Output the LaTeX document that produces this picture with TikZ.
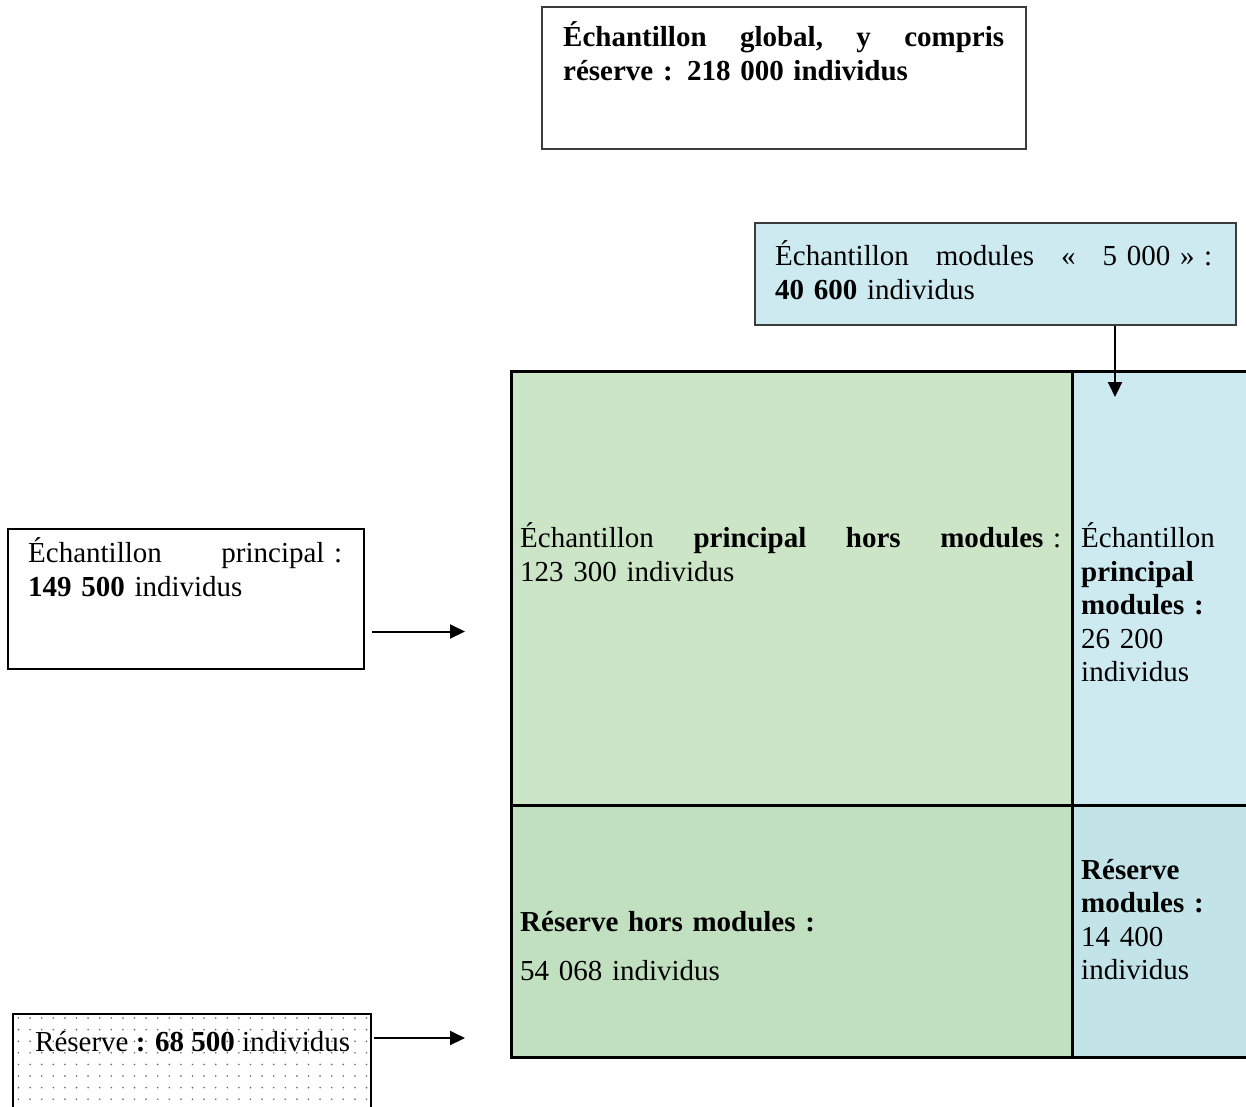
\documentclass[tikz,border=0pt]{standalone}
\usepackage{fontspec}
\setmainfont{Liberation Serif}
\usetikzlibrary{arrows.meta}
\definecolor{gA}{RGB}{205,229,199}
\definecolor{gB}{RGB}{193,224,191}
\definecolor{bA}{RGB}{205,234,240}
\definecolor{bB}{RGB}{194,228,232}
\definecolor{edgegray}{RGB}{60,60,60}
\tikzset{
  box/.style={rectangle, draw, line width=2pt, inner sep=0pt, anchor=north west},
  cell/.style={rectangle, draw=black, line width=3pt, inner sep=0pt, anchor=north west},
  txt/.style={inner sep=0pt, anchor=base west, align=left, font=\fontsize{29}{33.5}\selectfont},
  arr/.style={line width=2pt, -{Triangle[length=15pt,width=14pt]}},
}
\begin{document}
\begin{tikzpicture}[x=1pt,y=-1pt]
\useasboundingbox (0,0) rectangle (1246,1106);
% boxes
\node[box, draw=edgegray, minimum width=484pt, minimum height=142pt] (topbox) at (541,6) {};
\node[box, fill=bA, draw=edgegray, minimum width=481pt, minimum height=102pt] (mbox) at (754,222) {};
\node[box, minimum width=356pt, minimum height=140pt] (pbox) at (7,528) {};
% grid
\node[cell, fill=gA, minimum width=561pt, minimum height=434pt] (c11) at (510,370) {};
\node[cell, fill=bA, minimum width=190pt, minimum height=434pt] (c12) at (1071,370) {};
\node[cell, fill=gB, minimum width=561pt, minimum height=252pt] (c21) at (510,804) {};
\node[cell, fill=bB, minimum width=190pt, minimum height=252pt] (c22) at (1071,804) {};
% reserve box with dots
\begin{scope}
\clip (12,1013) rectangle (370,1112);
\foreach \i in {0,...,30} {
  \foreach \j in {0,...,8} {
    \fill[black!60] (18.5+\i*11.6, 1018+\j*11.6) circle (0.9pt);
  }
}
\end{scope}
\node[box, minimum width=358pt, minimum height=100pt] (rbox) at (12,1013) {};
% texts
\node[txt, text width=441pt] (topT) at (563,46.5) {\bfseries\hbox to 441pt{Échantillon\hfill global,\hfill y\hfill compris}\\ réserve : 218 000 individus};
\node[txt, text width=437pt] (modT) at (775,265.5) {\hbox to 437pt{Échantillon\hfill modules\hfill «\hfill 5 000 » :}\\ \textbf{40 600} individus};
\node[txt, text width=314pt] (pT) at (28,562.5) {\hbox to 314pt{Échantillon\hfill principal :}\\ \textbf{149 500} individus};
\node[txt, text width=541pt] (c11T) at (520,547.7) {\hbox to 541pt{Échantillon\hfill \textbf{principal}\hfill \textbf{hors}\hfill \textbf{modules} :}\\ 123 300 individus};
\node[txt, text width=160pt] (c12T) at (1081,547.7) {Échantillon\\ \textbf{principal}\\ \textbf{modules :}\\ 26 200\\ individus};
\node[txt, text width=500pt] (c21T) at (520,931.5) {\textbf{Réserve hors modules :}\\[15.5pt] 54 068 individus};
\node[txt, text width=160pt] (c22T) at (1081,879.3) {\textbf{Réserve}\\ \textbf{modules :}\\ 14 400\\ individus};
\node[txt] (rT) at (35,1051) {Réserve \textbf{: 68 500} individus};
% connectors
\coordinate (m2) at (1115,397);
\coordinate (p2) at (465,631.5);
\coordinate (r2) at (465,1038);
\draw[arr] (mbox.south -| m2) -- (m2);
\draw[arr, shorten <=7pt] (pbox.east |- p2) -- (p2);
\draw[arr, shorten <=2pt] (rbox.east |- r2) -- (r2);
\end{tikzpicture}
\end{document}
